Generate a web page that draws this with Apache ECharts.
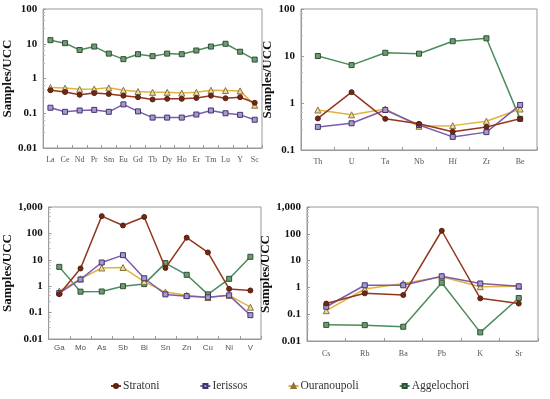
<!DOCTYPE html>
<html><head><meta charset="utf-8">
<script src="https://cdn.jsdelivr.net/npm/echarts@6/dist/echarts.min.js"></script>
<style>html,body{margin:0;padding:0;background:#fff}#c{width:550px;height:399px}</style>
</head><body><div id="c"></div>
<script>
// ---- data ----
const ree = ['La','Ce','Nd','Pr','Sm','Eu','Gd','Tb','Dy','Ho','Er','Tm','Lu','Y','Sc'];
const hfse = ['Th','U','Ta','Nb','Hf','Zr','Be'];
const metals = ['Ga','Mo','As','Sb','Bi','Sn','Zn','Cu','Ni','V'];
const lile = ['Cs','Rb','Ba','Pb','K','Sr'];
const seriesNames = ['Stratoni','Ierissos','Ouranoupoli','Aggelochori'];

const strat1 = [0.46,0.41,0.34,0.38,0.36,0.32,0.29,0.25,0.26,0.26,0.275,0.32,0.27,0.29,0.20];
const ier1 = [0.144,0.11,0.12,0.125,0.11,0.18,0.113,0.075,0.075,0.075,0.092,0.12,0.10,0.09,0.065];
const our1 = [0.55,0.53,0.49,0.50,0.54,0.46,0.42,0.40,0.40,0.38,0.40,0.46,0.45,0.44,0.17];
const agg1 = [12.7,10.4,6.6,8.3,5.2,3.6,5.0,4.4,5.2,5.0,6.4,8.3,10,5.9,3.5];

const strat2 = [0.47,1.7,0.46,0.36,0.245,0.31,0.46];
const ier2 = [0.31,0.37,0.71,0.34,0.19,0.24,0.91];
const our2 = [0.71,0.56,0.745,0.32,0.33,0.41,0.745];
const agg2 = [10,6.4,11.7,11.2,20.6,23.8,0.46];

const strat3 = [0.5,4.7,450,200,420,4.9,69,19,0.79,0.69];
const ier3 = [0.55,1.8,7.9,15,2.0,0.49,0.42,0.38,0.45,0.08];
const our3 = [0.65,1.9,4.9,5.1,1.5,0.6,0.45,0.37,0.45,0.16];
const agg3 = [5.4,0.62,0.63,1.0,1.2,7.5,2.7,0.49,1.9,13];

const strat4 = [0.25,0.6,0.52,130,0.39,0.25];
const ier4 = [0.19,1.2,1.2,2.6,1.4,1.1];
const our4 = [0.135,0.87,1.4,2.5,1.06,1.1];
const agg4 = [0.04,0.039,0.034,1.5,0.021,0.4];

// ---- styles ----
const SERIF = '"Liberation Serif", "DejaVu Serif", serif';
const SANS = '"Liberation Sans", "DejaVu Sans", sans-serif';
const styles = [
  {line:'#93371c', fill:'#6e2814', border:'#5a2010', symbol:'circle', size:5},
  {line:'#7b5cad', fill:'#a898cc', border:'#3f3470', symbol:'rect', size:5},
  {line:'#e2b23c', fill:'#e8d9a0', border:'#8a7440', symbol:'triangle', size:6},
  {line:'#4b8c5b', fill:'#6f9a72', border:'#2d5034', symbol:'rect', size:5}
];

const grids = [
  {left:38, top:9, width:224, height:139, min:0.01, max:100, cats:ree, xFont:SERIF, xSize:8, xMargin:8, nameGap:20, data:[strat1,ier1,our1,agg1]},
  {left:301, top:9, width:236, height:141, min:0.1, max:100, cats:hfse, xFont:SERIF, xSize:8, xMargin:8, nameGap:17, data:[strat2,ier2,our2,agg2]},
  {left:36, top:207, width:225, height:132, min:0.01, max:1000, cats:metals, xFont:SANS, xSize:8, xMargin:5, nameGap:20, data:[strat3,ier3,our3,agg3]},
  {left:307, top:207, width:231, height:134, min:0.01, max:1000, cats:lile, xFont:SERIF, xSize:8, xMargin:9, nameGap:20, data:[strat4,ier4,our4,agg4]}
];

function fmt(v){
  if (v >= 1) return Math.round(v).toLocaleString('en-US');
  return String(+v.toPrecision(1));
}

const option = {
  backgroundColor:'#fff',
  animation:false,
  grid: grids.map(g => ({left:g.left, top:g.top, width:g.width, height:g.height, show:true, borderColor:'#999', borderWidth:1, backgroundColor:'transparent'})),
  xAxis: grids.map((g,i) => ({
    type:'category', gridIndex:i, data:g.cats, boundaryGap:true,
    axisLine:{show:true, lineStyle:{color:'#999'}},
    axisTick:{show:true, inside:true, length:3, lineStyle:{color:'#999'}},
    axisLabel:{fontFamily:g.xFont, fontSize:g.xSize, color:'#555', margin:g.xMargin, interval:0},
    splitLine:{show:false}
  })),
  yAxis: grids.map((g,i) => ({
    type:'log', logBase:10, gridIndex:i, min:g.min, max:g.max, interval:1,
    name:'Samples/UCC', nameLocation:'middle', nameGap:g.nameGap,
    nameTextStyle:{fontFamily:SERIF, fontSize:13, fontWeight:'bold', color:'#111'},
    axisLine:{show:true, lineStyle:{color:'#999'}},
    axisTick:{show:true, inside:true, length:3, lineStyle:{color:'#999'}},
    minorTick:{show:true, splitNumber:5, length:2, lineStyle:{color:'#bbb'}},
    axisLabel:{fontFamily:SERIF, fontSize:11, fontWeight:'bold', color:'#111', margin:6, formatter:fmt},
    splitLine:{show:false}
  })),
  legend: {
    data: seriesNames, bottom: 7, left: 110, itemGap: 40, itemWidth: 10, itemHeight: 5,
    textStyle:{fontFamily:SERIF, fontSize:11.5, color:'#333', padding:[0,0,0,-3]}, padding:0
  },
  series: []
};

grids.forEach((g,gi) => {
  g.data.forEach((arr,si) => {
    const s = styles[si];
    option.series.push({
      name: seriesNames[si], type:'line', xAxisIndex:gi, yAxisIndex:gi,
      data: arr, symbol:s.symbol, symbolSize:s.size, showSymbol:true,
      lineStyle:{color:s.line, width:1.5},
      itemStyle:{color:s.fill, borderColor:s.border, borderWidth:1},
      z: 2 + (3 - si)
    });
  });
});

const chart = echarts.init(document.getElementById('c'), null, {renderer:'canvas'});
chart.setOption(option);
</script></body></html>
